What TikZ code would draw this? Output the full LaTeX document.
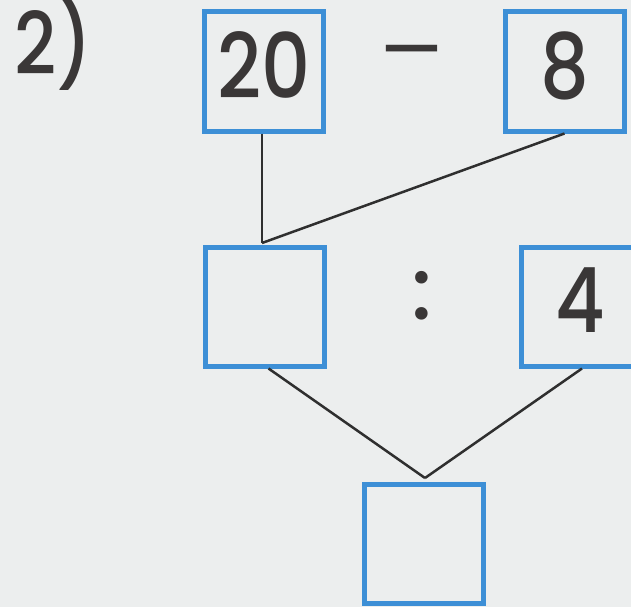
\documentclass[tikz,border=0pt]{standalone}
\usepackage{fontspec}
\newfontfamily\digfont{Poppins}[UprightFont=* Medium]
\definecolor{boxblue}{HTML}{3D8FD6}
\definecolor{ink}{HTML}{3A3737}
\definecolor{lineink}{HTML}{2F2F2F}
\definecolor{paper}{HTML}{ECEEEE}
\newcommand{\nar}[1]{\scalebox{0.85}[1]{#1}}
\begin{document}
\begin{tikzpicture}[x=1pt,y=-1pt,
  numbox/.style={draw=boxblue, line width=5pt, minimum width=119pt, minimum height=119pt,
    inner sep=0pt, text=ink, text depth=12pt, font=\digfont\fontsize{90}{90}\selectfont},
  conn/.style={draw=lineink, line width=2.5pt},
  sym/.style={text=ink, inner sep=0pt, font=\digfont\fontsize{86}{86}\selectfont}]
\useasboundingbox (0,0) rectangle (631,607);
\clip (0,0) rectangle (631,607);
\fill[paper] (0,0) rectangle (631,607);
% boxes
\node[numbox] (a) at (264,71.5) {\nar{20}};
\node[numbox] (b) at (564.5,71.5) {\nar{8}};
\node[numbox] (c) at (264.5,306.5) {};
\node[numbox] (d) at (580.5,306.5) {\nar{4}};
\node[numbox] (e) at (424,544) {};
% operators and label
\node[sym, anchor=base west] (lbl) at (14,75) {\nar{2)}};
\node[sym] (minus) at (411.5,59) {\scalebox{1.45}[0.8]{−}};
\node[sym] (colon) at (422,296) {:};
% joins
\coordinate (j1) at (262,243);
\coordinate (j2) at (425,478);
\draw[conn] (a.south -| j1) -- (j1);
\draw[conn] (b.south) -- (j1);
\draw[conn] ([xshift=4pt]c.south) -- (j2);
\draw[conn] ([xshift=1.5pt]d.south) -- (j2);
\end{tikzpicture}
\end{document}
